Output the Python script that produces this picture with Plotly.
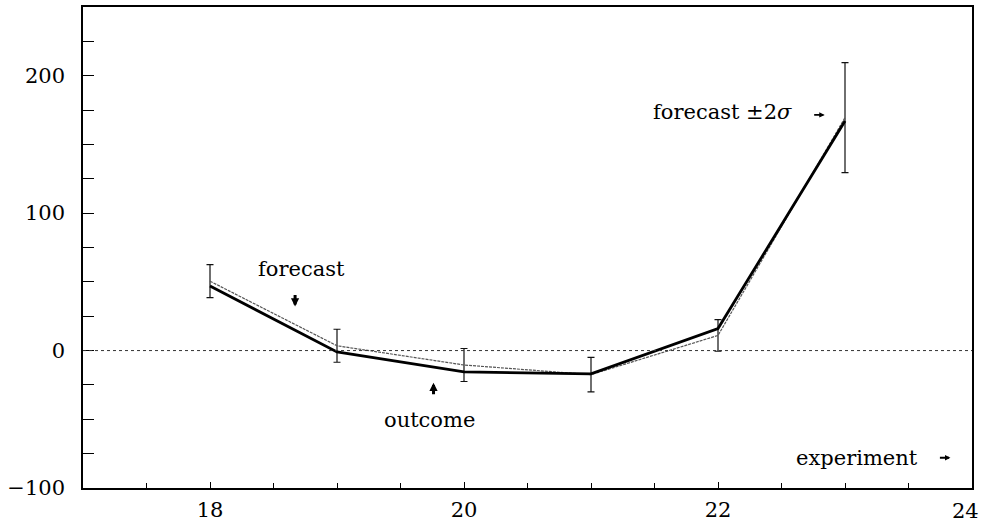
import plotly.graph_objects as go

# Experiment index on the horizontal axis
experiment = [18, 19, 20, 21, 22, 23]
# Forecast values and their +/- 2 sigma half-widths
forecast = [50.5, 3.5, -10.5, -17.5, 11.0, 169.5]
two_sigma = [12.0, 12.0, 12.0, 12.5, 11.5, 40.0]
# Observed outcome
outcome = [47.0, -1.0, -15.5, -17.0, 16.0, 167.0]

# Labelled x ticks; the one at the right edge is placed as an annotation
x_tickvals = [18, 20, 22]
x_ticktext = ["18", "20", "22"]
x_edge_tick = 24

FONT = "DejaVu Serif"

fig = go.Figure()

fig.add_trace(go.Scatter(
    x=experiment, y=forecast, mode="lines", name="forecast",
    line=dict(color="#555555", width=1.2, dash="3px,1px"),
    error_y=dict(type="data", array=two_sigma, visible=True,
                 color="#111111", thickness=1.2, width=3.5),
))
fig.add_trace(go.Scatter(
    x=experiment, y=outcome, mode="lines", name="outcome",
    line=dict(color="#000000", width=2.8),
))

# dotted zero reference
fig.add_hline(y=0, line=dict(color="#333333", width=1, dash="dot"))

ann_font = dict(family=FONT, size=21, color="#000000")
arrow_style = dict(text="", showarrow=True, arrowhead=2, arrowsize=0.55,
                   arrowwidth=3.0, arrowcolor="#000000")
small_arrow = dict(text="", showarrow=True, arrowhead=2, arrowsize=0.6,
                   arrowwidth=1.8, arrowcolor="#000000")

fig.add_annotation(x=18.72, y=59, text="forecast", showarrow=False,
                   font=ann_font, xanchor="center", yanchor="middle")
fig.add_annotation(x=18.67, y=32, ax=0, ay=-13, **arrow_style)
fig.add_annotation(x=19.73, y=-50.5, text="outcome", showarrow=False,
                   font=ann_font, xanchor="center", yanchor="middle")
fig.add_annotation(x=19.76, y=-23.5, ax=0, ay=13, **arrow_style)
fig.add_annotation(x=21.47, y=173.3, text="forecast ±2<i>σ</i>", showarrow=False,
                   font=ann_font, xanchor="left", yanchor="middle")
fig.add_annotation(x=22.84, y=171.5, ax=-12, ay=0, **small_arrow)
fig.add_annotation(x=22.6, y=-78, text="experiment", showarrow=False,
                   font=ann_font, xanchor="left", yanchor="middle")
fig.add_annotation(x=23.83, y=-78, ax=-12, ay=0, **small_arrow)

# right-edge tick label, nudged left so it stays on the page
fig.add_annotation(x=x_edge_tick, xref="x", y=0, yref="paper", text=str(x_edge_tick),
                   showarrow=False, font=ann_font, xanchor="center", yanchor="top",
                   xshift=-7, yshift=-9)

axis_common = dict(showgrid=False, zeroline=False, showline=True, linecolor="#000000",
                   linewidth=1.6, mirror=True, ticks="inside", tickcolor="#000000",
                   tickwidth=1.4, automargin=False,
                   tickfont=dict(family=FONT, size=21, color="#000000"))

fig.update_xaxes(range=[17, 24], tickmode="array", tickvals=x_tickvals,
                 ticktext=x_ticktext, ticklen=6,
                 minor=dict(dtick=0.5, tick0=17, ticks="inside", ticklen=5,
                            tickcolor="#000000", tickwidth=1.2),
                 ticklabelstandoff=2, **axis_common)
fig.update_yaxes(range=[-100, 250], tick0=0, dtick=100, ticklen=11,
                 minor=dict(dtick=25, tick0=0, ticks="inside", ticklen=11,
                            tickcolor="#000000", tickwidth=1.2),
                 ticklabelstandoff=12, **axis_common)

fig.update_layout(
    width=983, height=525,
    margin=dict(l=83, r=11, t=7, b=37),
    paper_bgcolor="#ffffff", plot_bgcolor="#ffffff",
    showlegend=False,
    font=dict(family=FONT, size=21, color="#000000"),
)

fig.write_html("out.html")
